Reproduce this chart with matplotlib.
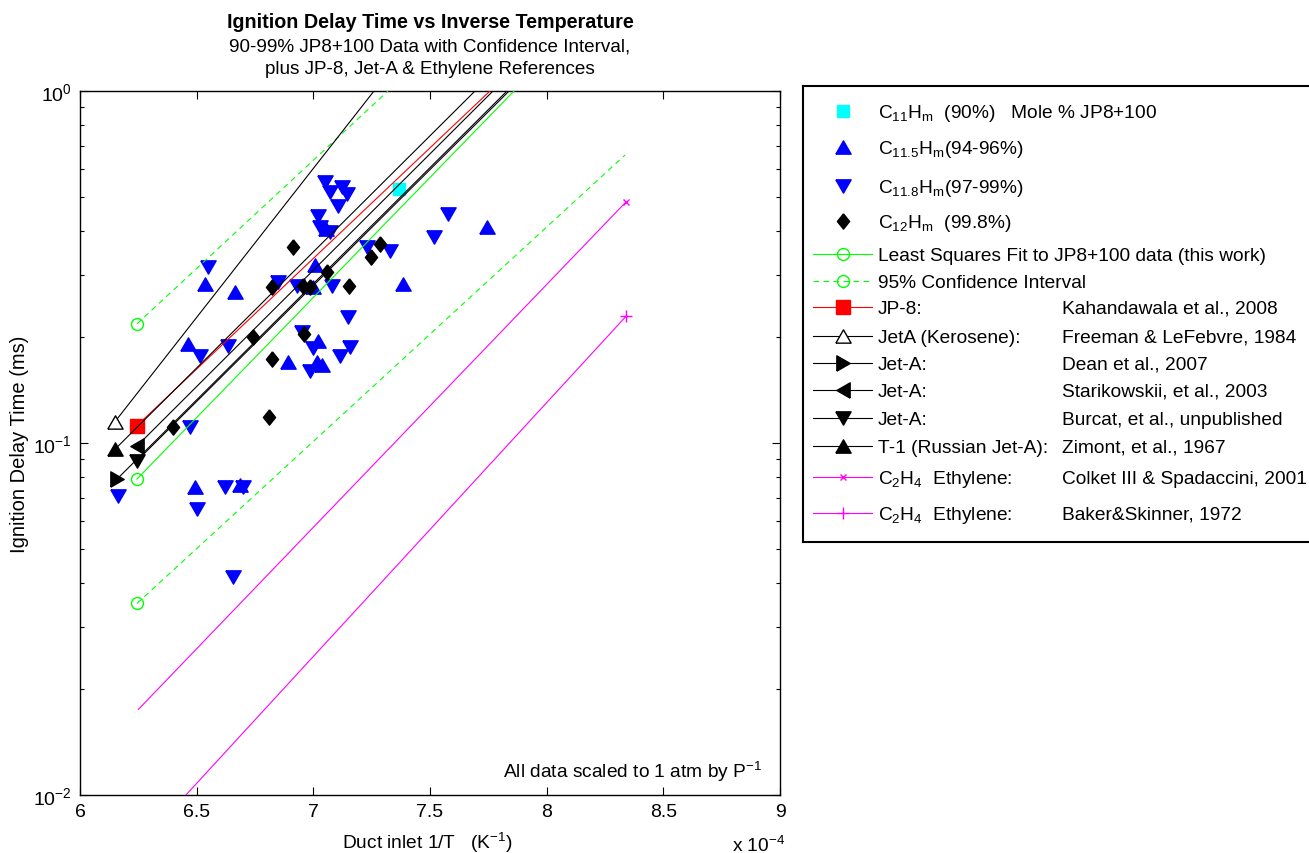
import matplotlib
matplotlib.use("Agg")
import matplotlib.pyplot as plt
from matplotlib import ticker
import numpy as np

W, H = 1309, 854

# ---- scatter data: x = 1/T in units of 1e-4 1/K, y = ignition delay (ms) ----
c11_x = [7.367]
c11_y = [0.527]

c115_x = [7.007, 6.536, 6.664, 7.384, 7.744, 6.999, 6.463, 6.891, 7.020, 7.016,
          7.037, 6.493, 6.686, 7.054]
c115_y = [0.320, 0.283, 0.269, 0.283, 0.411, 0.277, 0.191, 0.170, 0.195, 0.170,
          0.167, 0.075, 0.076, 0.405]

c118_x = [7.050, 7.123, 7.071, 7.144, 7.106, 7.020, 7.029, 7.071, 7.577, 7.517,
          7.329, 7.230, 6.549, 6.849, 6.930, 7.080, 7.149, 7.157, 7.114, 6.951,
          6.999, 6.986, 6.634, 6.514, 6.471, 6.163, 6.501, 6.621, 6.699, 6.656]
c118_y = [0.551, 0.534, 0.516, 0.510, 0.471, 0.441, 0.411, 0.398, 0.447, 0.385,
          0.351, 0.360, 0.316, 0.287, 0.279, 0.279, 0.228, 0.187, 0.177, 0.207,
          0.186, 0.160, 0.189, 0.177, 0.111, 0.0707, 0.0649, 0.075, 0.075, 0.0416]

c12_x = [6.399, 6.810, 6.741, 6.823, 6.960, 6.823, 6.956, 6.986, 7.059, 7.153,
         6.913, 7.247, 7.286]
c12_y = [0.111, 0.1186, 0.200, 0.173, 0.204, 0.277, 0.279, 0.277, 0.306, 0.279,
         0.360, 0.338, 0.367]

# ---- correlation lines ----
fit_x = [6.244, 7.86]
fit_y = [0.079, 1.0]
ci_hi_x = [6.244, 7.32]
ci_hi_y = [0.218, 1.0]
ci_lo_x = [6.244, 8.336]
ci_lo_y = [0.035, 0.658]
jp8_x = [6.244, 7.757]
jp8_y = [0.112, 1.0]
kero_x = [6.15, 7.26]
kero_y = [0.115, 1.0]
dean_x = [6.159, 7.83]
dean_y = [0.079, 1.0]
star_x = [6.244, 7.77]
star_y = [0.098, 1.0]
burcat_x = [6.244, 7.839]
burcat_y = [0.089, 1.0]
zimont_x = [6.15, 7.693]
zimont_y = [0.096, 1.0]
colket_x = [6.25, 8.34]
colket_y = [0.0175, 0.484]
baker_x = [6.454, 8.34]
baker_y = [0.010, 0.229]

xticks = [6, 6.5, 7, 7.5, 8, 8.5, 9]

legend_left = ["C$_{11}$H$_{m}$  (90%)   Mole % JP8+100",
               "C$_{11.5}$H$_{m}$(94-96%)",
               "C$_{11.8}$H$_{m}$(97-99%)",
               "C$_{12}$H$_{m}$  (99.8%)",
               "Least Squares Fit to JP8+100 data (this work)",
               "95% Confidence Interval",
               "JP-8:",
               "JetA (Kerosene):",
               "Jet-A:",
               "Jet-A:",
               "Jet-A:",
               "T-1 (Russian Jet-A):",
               "C$_{2}$H$_{4}$  Ethylene:",
               "C$_{2}$H$_{4}$  Ethylene:"]
legend_right = ["", "", "", "", "", "",
                "Kahandawala et al., 2008",
                "Freeman & LeFebvre, 1984",
                "Dean et al., 2007",
                "Starikowskii, et al., 2003",
                "Burcat, et al., unpublished",
                "Zimont, et al., 1967",
                "Colket III & Spadaccini, 2001",
                "Baker&Skinner, 1972"]

plt.rcParams["font.family"] = ["Liberation Sans", "DejaVu Sans"]
plt.rcParams["mathtext.fontset"] = "custom"
plt.rcParams["mathtext.rm"] = "Liberation Sans"
plt.rcParams["mathtext.it"] = "Liberation Sans"
plt.rcParams["mathtext.bf"] = "Liberation Sans:bold"
plt.rcParams["mathtext.default"] = "regular"
plt.rcParams["font.size"] = 13.8

# matlab-like markers (closed outlines)
tri_up = [(-1, -0.87), (1, -0.87), (0, 0.87), (-1, -0.87)]
tri_dn = [(-1, 0.87), (1, 0.87), (0, -0.87), (-1, 0.87)]
tri_r = [(-0.87, -1), (-0.87, 1), (0.87, 0), (-0.87, -1)]
tri_l = [(0.87, -1), (0.87, 1), (-0.87, 0), (0.87, -1)]
diam = [(0, 1), (0.8, 0), (0, -1), (-0.8, 0), (0, 1)]

GREEN = "#00ff00"
MAG = "#ff00ff"
BLUE = "#0000ff"

pts = [
    (c11_x, c11_y, dict(marker="s", ms=8.6, color="#00ffff")),
    (c115_x, c115_y, dict(marker=tri_up, ms=11, color=BLUE)),
    (c118_x, c118_y, dict(marker=tri_dn, ms=11, color=BLUE)),
    (c12_x, c12_y, dict(marker=diam, ms=11, color="black")),
]

dash = (0, (5, 4))
lines = [
    (fit_x, fit_y, dict(color=GREEN, ls="-", marker="o", mfc="none", ms=8.6, markevery=[0])),
    (ci_hi_x, ci_hi_y, dict(color=GREEN, ls=dash, marker="o", mfc="none", ms=8.6, markevery=[0])),
    (jp8_x, jp8_y, dict(color="red", ls="-", marker="s", ms=9.4, markevery=[0])),
    (kero_x, kero_y, dict(color="black", ls="-", marker=tri_up, mfc="white", ms=11, markevery=[0])),
    (dean_x, dean_y, dict(color="black", ls="-", marker=tri_r, ms=11, markevery=[0])),
    (star_x, star_y, dict(color="black", ls="-", marker=tri_l, ms=11, markevery=[0])),
    (burcat_x, burcat_y, dict(color="black", ls="-", marker=tri_dn, ms=11, markevery=[0])),
    (zimont_x, zimont_y, dict(color="black", ls="-", marker=tri_up, ms=11, markevery=[0])),
    (colket_x, colket_y, dict(color=MAG, ls="-", marker="x", ms=5, markevery=[-1])),
    (baker_x, baker_y, dict(color=MAG, ls="-", marker="+", ms=9, markevery=[-1])),
]
ci_lo_style = lines[1][2]

fig = plt.figure(figsize=(W / 100, H / 100), dpi=100)
ax = fig.add_axes([80 / W, 1 - 796 / H, 700 / W, 704 / H])
ax.set_yscale("log")

for x, y, st in pts:
    ax.plot(x, y, ls="none", zorder=2, **st)
for x, y, st in lines:
    ax.plot(x, y, lw=0.8, zorder=3, **st)
ax.plot(ci_lo_x, ci_lo_y, lw=0.8, zorder=3, **ci_lo_style)

ax.set_xlim(6, 9)
ax.set_ylim(0.01, 1)
ax.set_xticks(xticks)
ax.xaxis.set_major_formatter(ticker.FuncFormatter(lambda v, _: f"{v:g}"))
ax.xaxis.set_minor_locator(ticker.NullLocator())
ax.yaxis.set_minor_formatter(ticker.NullFormatter())
ax.tick_params(which="both", direction="in", top=True, right=True, labelsize=14, width=0.8)
ax.tick_params(which="major", length=6, pad=6)
ax.tick_params(which="minor", length=3)
for s in ax.spines.values():
    s.set_linewidth(1.0)

ax.text(0.975, 0.026, "All data scaled to 1 atm by P$^{-1}$", transform=ax.transAxes,
        ha="right", va="baseline", fontsize=13.8)

fig.text(430 / W, 1 - 23 / H, "Ignition Delay Time vs Inverse Temperature",
         ha="center", va="center", fontsize=14.2, fontweight="bold")
fig.text(430 / W, 1 - 47 / H, "90-99% JP8+100 Data with Confidence Interval,",
         ha="center", va="center", fontsize=13.6)
fig.text(430 / W, 1 - 70 / H, "plus JP-8, Jet-A & Ethylene References",
         ha="center", va="center", fontsize=13.6)
fig.text(427 / W, 1 - 843 / H, "Duct inlet 1/T   (K$^{-1}$)", ha="center", va="center",
         fontsize=13.8)
fig.text(20 / W, 1 - 444 / H, "Ignition Delay Time (ms)", ha="center", va="center",
         rotation=90, fontsize=14.5)
fig.text(732 / W, 1 - 852 / H, "x 10$^{-4}$", ha="left", va="baseline", fontsize=13.8)

# ---- legend box drawn by hand (matlab style, two text columns) ----
lx0, ly0, ly1 = 803, 87, 543
lax = fig.add_axes([lx0 / W, 1 - ly1 / H, (W - lx0 + 5) / W, (ly1 - ly0) / H])
lax.set_xlim(0, W - lx0 + 5)
lax.set_ylim(ly1 - ly0, 0)
lax.set_xticks([])
lax.set_yticks([])
for s in lax.spines.values():
    s.set_linewidth(1.5)

row_y = [25, 61, 100, 135, 168, 195, 221, 250, 277, 304, 332, 360, 391, 427]
handles = [st for _, _, st in pts] + [st for _, _, st in lines]
for i, st in enumerate(handles):
    yy = row_y[i]
    st = dict(st)
    st.pop("markevery", None)
    if i < 4:
        lax.plot([40], [yy], ls="none", clip_on=False, **st)
    else:
        lax.plot([10, 40, 69], [yy, yy, yy], lw=0.8, markevery=[1], clip_on=False, **st)
    lax.text(75, yy + 6, legend_left[i], ha="left", va="baseline", fontsize=13.8)
    if legend_right[i]:
        lax.text(259, yy + 6, legend_right[i], ha="left", va="baseline", fontsize=13.8)

fig.savefig("out.png", dpi=100)
